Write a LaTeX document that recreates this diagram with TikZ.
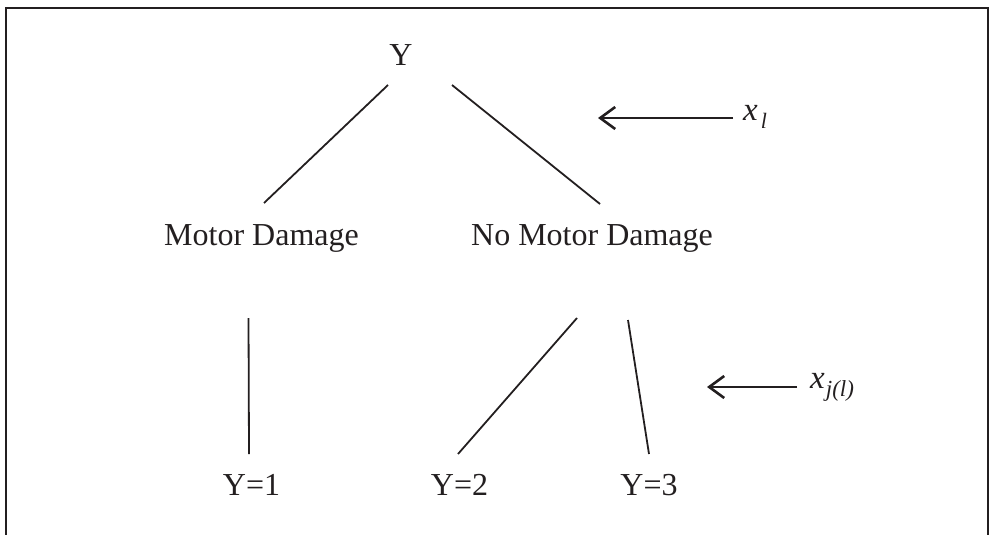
\documentclass[tikz,border=0pt]{standalone}
\usepackage{fontspec}
\setmainfont{Liberation Serif}
\usetikzlibrary{arrows.meta}
\definecolor{ink}{HTML}{231F20}
\begin{document}
\begin{tikzpicture}[x=1pt,y=-1pt,
  lbl/.style={anchor=base,inner sep=0pt,text=ink,font=\fontsize{32}{38}\selectfont},
  sym/.style={anchor=base west,inner sep=0pt,text=ink,font=\fontsize{33}{38}\selectfont\itshape},
  edge/.style={draw=ink,line width=1.8pt},
  pointer/.style={draw=ink,line width=2.8pt,-{Straight Barb[length=15pt,width=22pt,line width=2.6pt]}}]
\useasboundingbox (0,0) rectangle (990,535);
\draw[draw=ink,line width=2pt] (6,545) -- (6,8) -- (988,8) -- (988,545);
% nodes
\node[lbl] (Y)   at (401,66)   {Y};
\node[lbl] (MD)  at (261.5,245) {Motor Damage};
\node[lbl] (NMD) at (592,245)  {No Motor Damage};
\node[lbl] (Y1)  at (251.5,495) {Y=1};
\node[lbl] (Y2)  at (459.5,495) {Y=2};
\node[lbl] (Y3)  at (649,495)  {Y=3};
\node[sym] (xl)  at (743,120) {x\hspace{3pt}\raisebox{-8pt}{\fontsize{22}{24}\selectfont l}};
\node[sym] (xjl) at (810,388) {x\hspace{1pt}\raisebox{-8pt}{\fontsize{23}{25}\selectfont j(l)}};
% connector end points
\coordinate (yA)  at (388,85);
\coordinate (yB)  at (452,85);
\coordinate (mdT) at (264,203);
\coordinate (nmT) at (600,204);
\coordinate (mdB) at (248.5,318);
\coordinate (nmB2) at (577,318);
\coordinate (nmB3) at (628,320);
\coordinate (y1T) at (249,454);
\coordinate (y2T) at (458,454);
\coordinate (y3T) at (649,454);
\coordinate (a1s) at (733,118);
\coordinate (a1e) at (598,118);
\coordinate (a2s) at (797,387);
\coordinate (a2e) at (707,387);
% tree edges
\draw[edge] (yA) -- (mdT);
\draw[edge] (yB) -- (nmT);
\draw[edge] (mdB) -- (y1T);
\draw[edge] (nmB2) -- (y2T);
\draw[edge] (nmB3) -- (y3T);
% pointers
\draw[pointer] (a1s) -- (a1e);
\draw[pointer] (a2s) -- (a2e);
\end{tikzpicture}
\end{document}
